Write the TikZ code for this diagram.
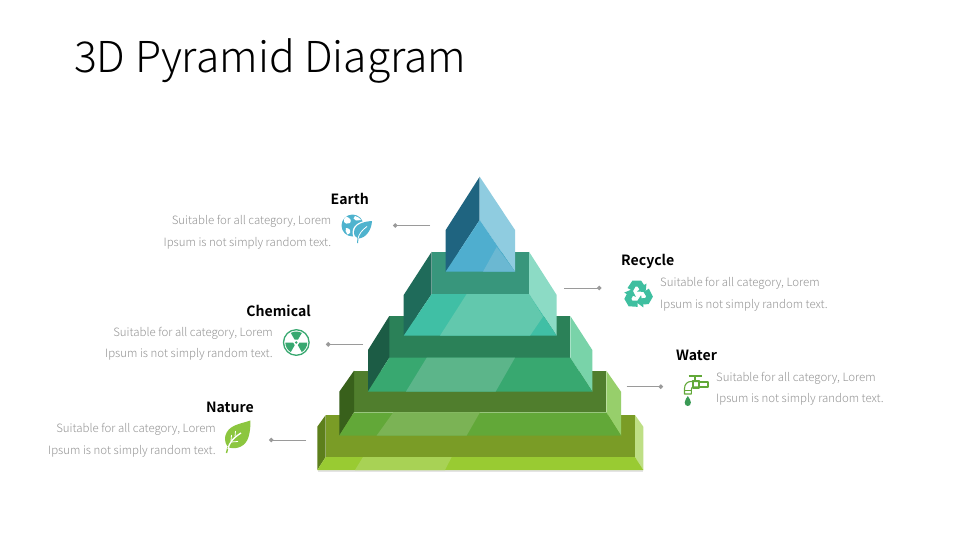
\documentclass[tikz,border=0pt]{standalone}
\usepackage{fontspec}
\usetikzlibrary{arrows.meta}
\setmainfont{Noto Sans CJK SC}[UprightFont=* Light,BoldFont=* Bold]
\newfontfamily\headfont{Noto Sans CJK SC}[UprightFont=* Bold]
\definecolor{tA}{HTML}{1F6480}\definecolor{tB}{HTML}{8FCCE0}\definecolor{tC}{HTML}{4FAECF}\definecolor{tD}{HTML}{6BB8D2}
\definecolor{sW}{HTML}{38967C}\definecolor{sL}{HTML}{1F6B5A}\definecolor{sR}{HTML}{8CDBC5}\definecolor{sF}{HTML}{40BFA5}\definecolor{sB}{HTML}{62C8AD}
\definecolor{mW}{HTML}{2B8158}\definecolor{mL}{HTML}{1C5C45}\definecolor{mR}{HTML}{79D3A9}\definecolor{mF}{HTML}{38A870}\definecolor{mB}{HTML}{5CB58A}
\definecolor{gW}{HTML}{507E2D}\definecolor{gL}{HTML}{38601B}\definecolor{gR}{HTML}{97CF6B}\definecolor{gF}{HTML}{62A838}\definecolor{gB}{HTML}{7BB355}
\definecolor{lW}{HTML}{7A9C26}\definecolor{lL}{HTML}{5D7F1C}\definecolor{lR}{HTML}{BEDF85}\definecolor{lF}{HTML}{99CB32}\definecolor{lB}{HTML}{A8D255}
\definecolor{bodygray}{HTML}{949494}\definecolor{leadgray}{HTML}{9A9A9A}
\definecolor{icoEarth}{HTML}{4FB3CE}\definecolor{icoRec}{HTML}{3FBFA0}\definecolor{icoChem}{HTML}{38A870}\definecolor{icoLeaf}{HTML}{8CC63F}\definecolor{icoTap}{HTML}{62A838}\definecolor{icoDrop}{HTML}{3A9A55}
\tikzset{
  titletext/.style={anchor=west,inner sep=0pt,font=\fontsize{42.6}{44}\selectfont,text=black},
  headtext/.style={inner sep=0pt,font=\fontsize{14.1}{16}\headfont,text=black},
  bodytext/.style={inner sep=0pt,font=\fontsize{11.45}{14}\selectfont,text=bodygray},
  leadline/.style={draw=leadgray,line width=1pt,-{Circle[length=4.5pt,fill=leadgray]}},
  tapline/.style={draw=icoTap,line width=1.1pt,line join=round}
}
\begin{document}
\begin{tikzpicture}[x=1pt,y=-1pt]
\useasboundingbox (0,0) rectangle (960,540);
\fill[white] (0,0) rectangle (960,540);
\node[titletext] (title) at (74,61) {3D Pyramid Diagram};
% tier 5 (base)
\fill[black!30,opacity=.35] (318,469) rectangle (643,472);
\fill[lW] (325.7,415) rectangle (635,457);
\fill[lL] (325.7,415) -- (317.3,426.7) -- (317.3,470) -- (325.7,457) -- cycle;
\fill[lR] (635,415) -- (643.3,426.7) -- (643.3,470) -- (635,457) -- cycle;
\fill[lF] (325.7,457) -- (635,457) -- (643.3,470) -- (317.3,470) -- cycle;
\fill[lB] (363,457) -- (451.7,457) -- (445,470) -- (355,470) -- cycle;
% tier 4
\fill[gW] (354,370.7) rectangle (606.3,412.3);
\fill[gL] (354,370.7) -- (339.3,391.7) -- (339.3,435.5) -- (354,412.3) -- cycle;
\fill[gR] (606.3,370.7) -- (621,391.7) -- (621,435.5) -- (606.3,412.3) -- cycle;
\fill[gF] (354,412.3) -- (606.3,412.3) -- (621,435.5) -- (339.3,435.5) -- cycle;
\fill[gB] (393.3,412.3) -- (480,412.3) -- (466.7,435.5) -- (376.7,435.5) -- cycle;
% tier 3
\fill[mW] (389.3,316) rectangle (570.3,357.7);
\fill[mL] (389.3,316) -- (368,350) -- (368,391.5) -- (389.3,357.7) -- cycle;
\fill[mR] (570.3,316) -- (592.3,350) -- (592.3,391.5) -- (570.3,357.7) -- cycle;
\fill[mF] (389.3,357.7) -- (570.3,357.7) -- (592.3,391.5) -- (368,391.5) -- cycle;
\fill[mB] (426.7,357.7) -- (515,357.7) -- (495.7,391.5) -- (406,391.5) -- cycle;
% tier 2
\fill[sW] (431.7,251.7) rectangle (529,294);
\fill[sL] (431.7,251.7) -- (403.7,295) -- (403.7,335.7) -- (431.7,294) -- cycle;
\fill[sR] (529,251.7) -- (556.7,295) -- (556.7,335.7) -- (529,294) -- cycle;
\fill[sF] (431.7,294) -- (529,294) -- (556.7,335.7) -- (403.7,335.7) -- cycle;
\fill[sB] (466.7,294) -- (529,294) -- (543,316.7) -- (530,335.7) -- (440,335.7) -- cycle;
% top
\fill[tA] (479.7,176.7) -- (445.7,230) -- (445.7,271.7) -- (479.7,220) -- cycle;
\fill[tB] (479.7,176.7) -- (515,230) -- (515,271.7) -- (479.7,220) -- cycle;
\fill[tC] (479.7,220) -- (445.7,271.7) -- (515,271.7) -- cycle;
\fill[tD] (496.7,247) -- (515,271.7) -- (483,271.7) -- cycle;
% connectors
\coordinate (earthfrom) at (430,225.5); \coordinate (earthdot) at (393,225.5);
\coordinate (recfrom) at (564,288); \coordinate (recdot) at (601.5,288);
\coordinate (chemfrom) at (363,344.3); \coordinate (chemdot) at (326,344.3);
\coordinate (watfrom) at (626.7,386.7); \coordinate (watdot) at (663,386.7);
\coordinate (natfrom) at (306,440); \coordinate (natdot) at (269,440);
\draw[leadline] (earthfrom) -- (earthdot);
\draw[leadline] (recfrom) -- (recdot);
\draw[leadline] (chemfrom) -- (chemdot);
\draw[leadline] (watfrom) -- (watdot);
\draw[leadline] (natfrom) -- (natdot);
% texts
\node[headtext,anchor=east] (earthh) at (369,199) {Earth};
\node[bodytext,anchor=east] (earth1) at (331.5,221) {Suitable for all category, Lorem};
\node[bodytext,anchor=east] (earth2) at (331.5,243) {Ipsum is not simply random text.};
\node[headtext,anchor=east] (chemh) at (311,311) {Chemical};
\node[bodytext,anchor=east] (chem1) at (273,333) {Suitable for all category, Lorem};
\node[bodytext,anchor=east] (chem2) at (273,354) {Ipsum is not simply random text.};
\node[headtext,anchor=east] (nath) at (254,407) {Nature};
\node[bodytext,anchor=east] (nat1) at (216,429) {Suitable for all category, Lorem};
\node[bodytext,anchor=east] (nat2) at (216,451) {Ipsum is not simply random text.};
\node[headtext,anchor=west] (rech) at (621,261.5) {Recycle};
\node[bodytext,anchor=west] (rec1) at (660,283) {Suitable for all category, Lorem};
\node[bodytext,anchor=west] (rec2) at (660,305) {Ipsum is not simply random text.};
\node[headtext,anchor=west] (wath) at (676,355.5) {Water};
\node[bodytext,anchor=west] (wat1) at (716,378) {Suitable for all category, Lorem};
\node[bodytext,anchor=west] (wat2) at (716,399) {Ipsum is not simply random text.};
% earth icon
\fill[icoEarth] (352.5,225.5) circle (11);
\fill[white] (346,216.5) .. controls (350,218) and (352,220) .. (350,223) .. controls (347,223) and (345,225) .. (344,222) .. controls (343.5,220) and (344,218) .. (346,216.5) -- cycle;
\fill[white] (355,216) .. controls (358,217) and (360,218) .. (361,220) -- (356,220.5) -- (353.5,218.5) -- cycle;
\fill[white] (346,228) .. controls (349,228) and (351,230) .. (350,233) -- (347.5,234.5) .. controls (345.5,232) and (345,230) .. (346,228) -- cycle;
\fill[white] (373.5,219.5) .. controls (364,220) and (353,223) .. (352.5,232) .. controls (352.5,236) and (354,239) .. (356.5,239.5) -- (356,244) -- (359,244) -- (359.5,240) .. controls (368,239.5) and (373,230) .. (373.5,219.5) -- cycle;
\fill[icoEarth] (372,221) .. controls (364,221.5) and (354.5,224) .. (354,232) .. controls (354,235.5) and (355.5,237.5) .. (357.5,238) -- (357,243) -- (358,243) -- (358.5,238.5) .. controls (366,238) and (371.5,230) .. (372,221) -- cycle;
\draw[white,line width=.8pt] (358,238.5) .. controls (359,234) and (362,230) .. (367,226.5);
% radiation icon
\draw[icoChem,line width=1.3pt] (296.3,342.5) circle (12.8);
\foreach \a in {90,210,330}{
  \fill[icoChem] ({296.3+3.2*cos(\a-30)},{342.5-3.2*sin(\a-30)}) -- ({296.3+11*cos(\a-30)},{342.5-11*sin(\a-30)}) arc[start angle={-(\a-30)},end angle={-(\a+30)},radius=11] -- ({296.3+3.2*cos(\a+30)},{342.5-3.2*sin(\a+30)}) -- cycle;
}
\fill[icoChem] (296.3,342.5) circle (1.4);
% leaf icon
\fill[icoLeaf] (250.5,420.5) .. controls (240,424) and (228,425) .. (225.3,436) .. controls (224.3,441) and (226,445.5) .. (229,447.5) .. controls (237,450) and (246,446) .. (248.5,437) .. controls (250,432) and (250.5,427) .. (250.5,420.5) -- cycle;
\draw[icoLeaf,line width=1.4pt] (226.5,453) -- (228,447);
\draw[white,line width=1.3pt] (228,449) .. controls (229,443) and (233,438) .. (241,433);
\draw[white,line width=.8pt] (231,441) -- (231.5,435) (235,436.5) -- (235.5,431) (231,442) -- (238,441.5);
% recycle icon
\foreach \a in {0,120,240}{
  \begin{scope}[shift={(638,294.5)},rotate=\a]
  \fill[icoRec] (-10.5,-6.5) -- (-5.5,-14) -- (3,-14) -- (6,-9.5) -- (8.5,-11) -- (7.5,-2.5) -- (-1,-3) -- (1.5,-5) -- (-.5,-8) -- (-2.5,-8) -- (-5,-3.5) -- cycle;
  \end{scope}
}
% tap icon
\draw[tapline,line width=1.8pt] (688.5,376) -- (702,376);
\draw[tapline] (695,376.5) -- (695,381.5);
\draw[tapline,fill=white] (684.5,394) -- (684.5,388.5) .. controls (684.5,384) and (687.5,381.5) .. (691,381.5) -- (699,381.5) -- (699,387) -- (693.5,387) .. controls (692,387) and (691.3,388) .. (691.3,390) -- (691.3,394) -- cycle;
\draw[tapline] (693,380.5) rectangle (699,388);
\draw[tapline] (699,382) rectangle (708,387);
\draw[tapline] (684.5,390.5) -- (691.3,390.5);
\fill[icoDrop] (687.8,396) .. controls (686.5,398.5) and (684.7,400) .. (684.7,402.5) .. controls (684.7,404.7) and (686,406) .. (687.8,406) .. controls (689.6,406) and (690.9,404.7) .. (690.9,402.5) .. controls (690.9,400) and (689.1,398.5) .. (687.8,396) -- cycle;
\end{tikzpicture}
\end{document}
